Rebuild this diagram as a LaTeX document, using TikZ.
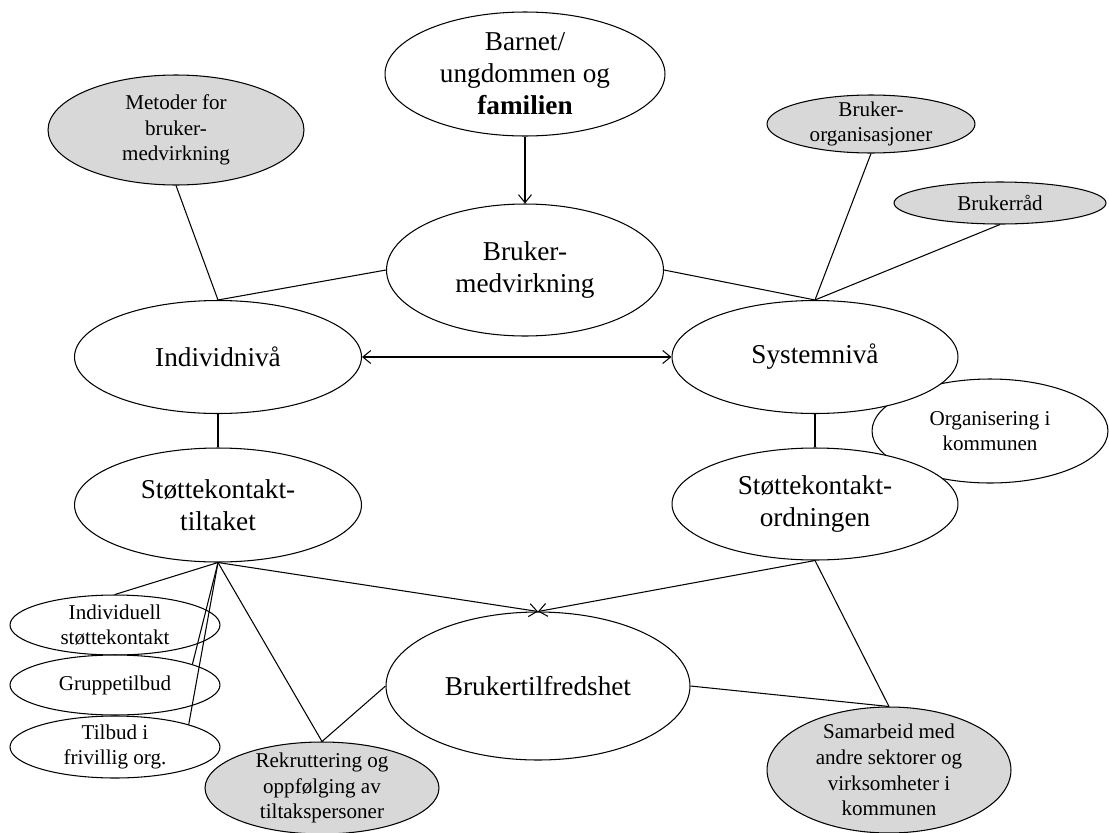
\documentclass[tikz,border=0pt]{standalone}
\usepackage{fontspec}
\setmainfont{Liberation Serif}
\usetikzlibrary{arrows.meta,shapes.geometric}
\definecolor{bubbleGray}{RGB}{216,216,216}

\begin{document}
\begin{tikzpicture}[x=0.02cm,y=-0.02cm,
        bubble/.style={draw,ellipse,line width=0.6pt,fill=white,inner xsep=0pt,inner ysep=-4pt,align=center,font=\fontsize{15.5}{18.2}\selectfont},
        note/.style={bubble,font=\fontsize{12}{14.6}\selectfont},
        shaded/.style={fill=bubbleGray},
        link/.style={line width=0.6pt},
        arrow/.style={link,-{Straight Barb[length=1.6mm,width=2.6mm]}}
      ]
        \useasboundingbox (0,0) rectangle (1109,832);

        % behind the system level
        \node[note,minimum width=4.72cm,minimum height=2.08cm] (organ) at (990,431) {Organisering i\\kommunen};

        \node[bubble,minimum width=5.6cm,minimum height=2.48cm] (barnet) at (525,74) {Barnet/\\ungdommen og\\\textbf{familien}};
        \node[bubble,minimum width=5.54cm,minimum height=2.64cm] (brukmed) at (525,270) {Bruker-\\medvirkning};
        \node[note,shaded,minimum width=5.12cm,minimum height=2.2cm] (metoder) at (176,130) {Metoder for\\bruker-\\medvirkning};
        \node[note,shaded,minimum width=4.16cm,minimum height=1.16cm] (brukorg) at (871,124) {Bruker-\\organisasjoner};
        \node[note,shaded,minimum width=4.24cm,minimum height=0.84cm] (brukraad) at (1000,203) {Brukerråd};

        \node[bubble,minimum width=5.74cm,minimum height=2.26cm] (individ) at (218,357) {Individnivå};
        \node[bubble,minimum width=5.72cm,minimum height=2.26cm] (system) at (815,357) {Systemnivå};
        \node[bubble,minimum width=5.74cm,minimum height=2.28cm] (tiltak) at (218,505) {Støttekontakt-\\tiltaket};
        \node[bubble,minimum width=5.72cm,minimum height=2.24cm] (ordning) at (815,504) {Støttekontakt-\\ordningen};

        \node[note,minimum width=4.2cm,minimum height=1.2cm] (indstk) at (115,625) {Individuell\\støttekontakt};
        \node[note,minimum width=4.2cm,minimum height=1.2cm] (gruppe) at (115,685) {Gruppetilbud};
        \node[note,minimum width=4.2cm,minimum height=1.24cm] (frivillig) at (115,747) {Tilbud i\\frivillig org.};
        \node[note,shaded,minimum width=4.68cm,minimum height=1.84cm] (rekrutt) at (322,788) {Rekruttering og\\oppfølging av\\tiltakspersoner};
        \node[bubble,minimum width=6.08cm,minimum height=2.96cm] (tilfreds) at (538,686) {Brukertilfredshet};
        \node[note,shaded,minimum width=4.88cm,minimum height=2.52cm] (samarb) at (889,770) {Samarbeid med\\andre sektorer og\\virksomheter i\\kommunen};

        \draw[arrow] (barnet) -- (brukmed);
        \draw[link] (individ.north) -- (metoder.south);
        \draw[link] (individ.north) -- (brukmed.west);
        \draw[link] (brukmed.east) -- (system.north);
        \draw[link] (system.north) -- (brukorg.south);
        \draw[link] (system.north) -- (brukraad.south);
        \draw[link,{Straight Barb[length=1.6mm,width=2.6mm]}-{Straight Barb[length=1.6mm,width=2.6mm]}] (individ) -- (system);
        \draw[link] (individ) -- (tiltak);
        \draw[link] (system) -- (ordning);

        \draw[link] (tiltak.south) -- (indstk.north);
        \draw[link] (tiltak.south) -- (gruppe.15);
        \draw[link] (tiltak.south) -- (frivillig.17);
        \draw[link] (tiltak.south) -- (rekrutt.north);
        \draw[arrow] (tiltak.south) -- (tilfreds.north);
        \draw[arrow] (ordning.south) -- (tilfreds.north);
        \draw[link] (ordning.south) -- (samarb.north);
        \draw[link] (tilfreds.east) -- (samarb.north);
        \draw[link] (rekrutt.north) -- (tilfreds.west);
      \end{tikzpicture}
\end{document}
